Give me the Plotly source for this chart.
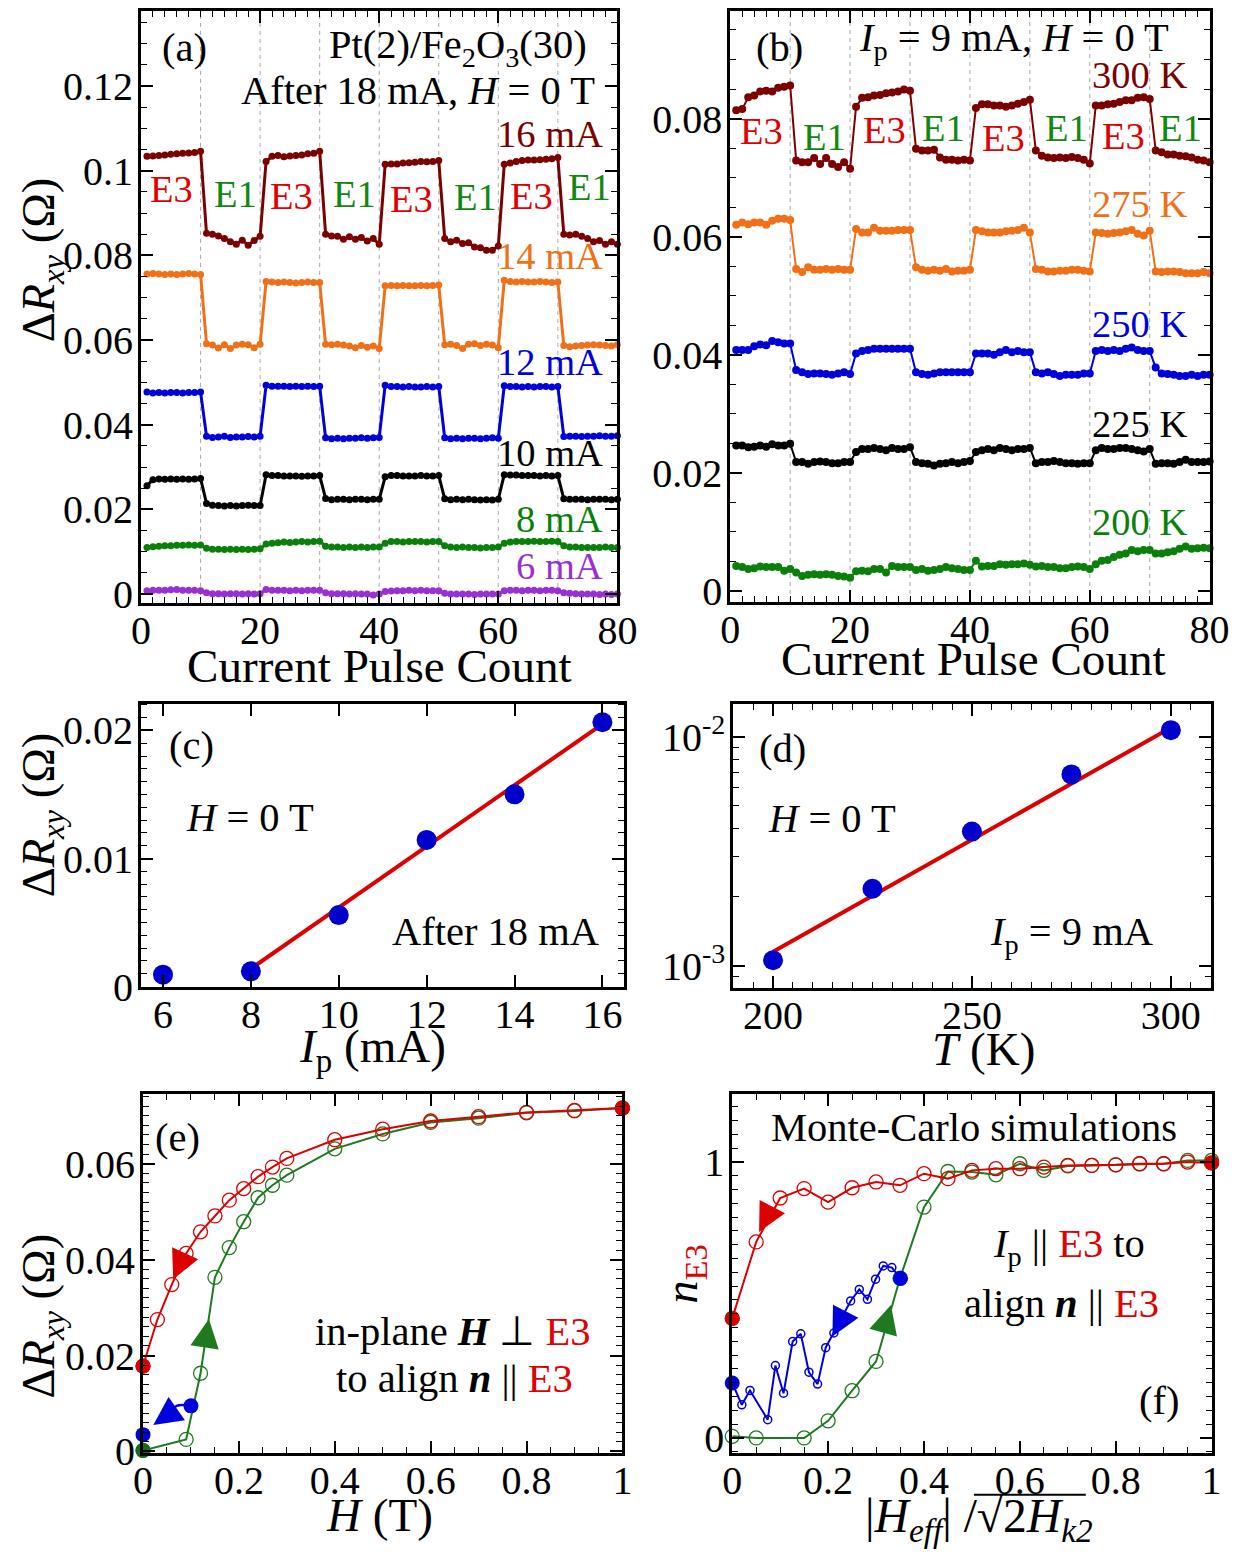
import plotly.graph_objects as go

# Layout positions below are given in reference-image pixels and mapped onto
# the figure (html body margin + slight page down-scaling are compensated).
S = 0.987
OFF = 8
FW, FH = 1242, 1568
FONT = "Liberation Serif"

# ---------------- data: panel (a) ----------------
pulse = list(range(1, 81))
a_16mA = [0.1034,0.1035,0.1036,0.1037,0.1039,0.1040,0.1041,0.1042,0.1043,0.1046,
          0.0852,0.0850,0.0846,0.0840,0.0832,0.0826,0.0836,0.0824,0.0835,0.0845,
          0.1022,0.1034,0.1036,0.1033,0.1035,0.1036,0.1037,0.1040,0.1041,0.1046,
          0.0850,0.0846,0.0845,0.0838,0.0844,0.0838,0.0842,0.0834,0.0840,0.0826,
          0.1015,0.1016,0.1016,0.1018,0.1019,0.1020,0.1022,0.1021,0.1022,0.1024,
          0.0840,0.0832,0.0836,0.0828,0.0830,0.0820,0.0818,0.0812,0.0812,0.0822,
          0.1015,0.1018,0.1022,0.1024,0.1025,0.1025,0.1026,0.1027,0.1028,0.1031,
          0.0850,0.0848,0.0850,0.0845,0.0840,0.0832,0.0835,0.0826,0.0832,0.0826]
a_14mA = [0.0756,0.0757,0.0756,0.0755,0.0756,0.0755,0.0756,0.0757,0.0756,0.0755,
          0.0591,0.0588,0.0581,0.0589,0.0580,0.0588,0.0590,0.0589,0.0582,0.0590,
          0.0738,0.0737,0.0736,0.0737,0.0736,0.0735,0.0736,0.0737,0.0736,0.0736,
          0.0590,0.0589,0.0590,0.0588,0.0586,0.0582,0.0587,0.0583,0.0586,0.0580,
          0.0728,0.0729,0.0728,0.0729,0.0728,0.0728,0.0729,0.0728,0.0729,0.0730,
          0.0589,0.0590,0.0587,0.0580,0.0590,0.0591,0.0587,0.0590,0.0588,0.0582,
          0.0741,0.0738,0.0737,0.0738,0.0737,0.0737,0.0738,0.0737,0.0736,0.0737,
          0.0587,0.0584,0.0586,0.0587,0.0588,0.0589,0.0588,0.0587,0.0586,0.0589]
a_12mA = [0.0477,0.0475,0.0476,0.0475,0.0476,0.0476,0.0475,0.0476,0.0476,0.0477,
          0.0373,0.0370,0.0371,0.0373,0.0370,0.0371,0.0371,0.0372,0.0371,0.0373,
          0.0493,0.0491,0.0491,0.0491,0.0490,0.0491,0.0490,0.0491,0.0490,0.0491,
          0.0369,0.0367,0.0368,0.0367,0.0368,0.0368,0.0369,0.0368,0.0369,0.0370,
          0.0493,0.0490,0.0490,0.0489,0.0490,0.0489,0.0489,0.0490,0.0489,0.0490,
          0.0369,0.0367,0.0368,0.0367,0.0368,0.0368,0.0367,0.0368,0.0369,0.0368,
          0.0492,0.0490,0.0490,0.0489,0.0490,0.0489,0.0490,0.0490,0.0489,0.0490,
          0.0372,0.0373,0.0373,0.0372,0.0373,0.0373,0.0374,0.0373,0.0373,0.0374]
a_10mA = [0.0256,0.0270,0.0272,0.0271,0.0272,0.0271,0.0272,0.0271,0.0272,0.0273,
          0.0214,0.0210,0.0209,0.0208,0.0209,0.0208,0.0209,0.0210,0.0209,0.0209,
          0.0282,0.0280,0.0280,0.0279,0.0279,0.0279,0.0278,0.0279,0.0279,0.0280,
          0.0226,0.0223,0.0224,0.0224,0.0223,0.0224,0.0224,0.0223,0.0224,0.0224,
          0.0277,0.0280,0.0280,0.0279,0.0279,0.0279,0.0280,0.0279,0.0279,0.0280,
          0.0225,0.0223,0.0224,0.0223,0.0224,0.0223,0.0222,0.0223,0.0222,0.0224,
          0.0282,0.0281,0.0281,0.0280,0.0280,0.0280,0.0279,0.0280,0.0279,0.0280,
          0.0225,0.0224,0.0224,0.0224,0.0223,0.0224,0.0224,0.0224,0.0223,0.0224]
a_8mA = [0.0110,0.0112,0.0113,0.0114,0.0114,0.0115,0.0115,0.0116,0.0115,0.0116,
         0.0108,0.0106,0.0106,0.0105,0.0106,0.0105,0.0106,0.0105,0.0106,0.0107,
         0.0118,0.0120,0.0121,0.0123,0.0122,0.0123,0.0124,0.0123,0.0124,0.0125,
         0.0113,0.0111,0.0111,0.0110,0.0111,0.0110,0.0111,0.0110,0.0111,0.0111,
         0.0120,0.0124,0.0124,0.0123,0.0124,0.0124,0.0124,0.0123,0.0124,0.0124,
         0.0114,0.0111,0.0110,0.0111,0.0110,0.0110,0.0109,0.0110,0.0110,0.0111,
         0.0120,0.0123,0.0124,0.0124,0.0124,0.0125,0.0124,0.0124,0.0125,0.0124,
         0.0114,0.0111,0.0111,0.0110,0.0110,0.0110,0.0110,0.0111,0.0110,0.0110]
a_6mA = [0.0008,0.0009,0.0009,0.0009,0.0010,0.0011,0.0009,0.0009,0.0009,0.0008,
         0.0003,0.0001,0.0001,0.0000,0.0001,0.0001,0.0000,0.0001,0.0000,0.0001,
         0.0011,0.0009,0.0009,0.0009,0.0008,0.0009,0.0008,0.0009,0.0009,0.0009,
         0.0003,0.0001,0.0001,0.0001,0.0000,0.0001,0.0000,0.0000,-0.0002,0.0000,
         0.0006,0.0007,0.0008,0.0008,0.0009,0.0008,0.0009,0.0008,0.0008,0.0008,
         0.0002,0.0000,0.0000,0.0000,0.0000,-0.0001,0.0000,0.0000,0.0000,0.0000,
         0.0008,0.0009,0.0009,0.0008,0.0009,0.0009,0.0008,0.0009,0.0009,0.0008,
         0.0003,0.0002,0.0001,0.0000,0.0000,0.0000,-0.0001,0.0000,-0.0001,0.0000]
a_labels = ["16 mA", "14 mA", "12 mA", "10 mA", "8 mA", "6 mA"]
switch_marks = [10, 20, 30, 40, 50, 60, 70]

# ---------------- data: panel (b) ----------------
b_300K = [0.0814,0.0816,0.0836,0.0839,0.0846,0.0847,0.0846,0.0852,0.0854,0.0856,
          0.0729,0.0726,0.0726,0.0733,0.0723,0.0733,0.0723,0.0718,0.0726,0.0715,
          0.0820,0.0835,0.0836,0.0839,0.0840,0.0843,0.0844,0.0846,0.0849,0.0847,
          0.0749,0.0746,0.0746,0.0747,0.0734,0.0730,0.0730,0.0729,0.0730,0.0729,
          0.0818,0.0824,0.0824,0.0822,0.0822,0.0820,0.0822,0.0825,0.0828,0.0832,
          0.0746,0.0737,0.0734,0.0733,0.0734,0.0733,0.0735,0.0733,0.0730,0.0724,
          0.0822,0.0822,0.0824,0.0825,0.0828,0.0831,0.0831,0.0835,0.0836,0.0833,
          0.0746,0.0743,0.0739,0.0739,0.0737,0.0736,0.0734,0.0730,0.0729,0.0726]
b_275K = [0.0620,0.0624,0.0621,0.0624,0.0624,0.0620,0.0627,0.0630,0.0630,0.0628,
          0.0545,0.0540,0.0548,0.0544,0.0544,0.0545,0.0544,0.0545,0.0544,0.0544,
          0.0613,0.0607,0.0607,0.0615,0.0610,0.0610,0.0610,0.0611,0.0611,0.0611,
          0.0548,0.0544,0.0542,0.0544,0.0542,0.0545,0.0541,0.0542,0.0542,0.0544,
          0.0611,0.0609,0.0607,0.0607,0.0607,0.0609,0.0610,0.0611,0.0615,0.0607,
          0.0545,0.0544,0.0541,0.0541,0.0542,0.0542,0.0544,0.0544,0.0542,0.0541,
          0.0607,0.0606,0.0605,0.0606,0.0607,0.0609,0.0611,0.0605,0.0602,0.0610,
          0.0541,0.0540,0.0541,0.0541,0.0540,0.0538,0.0538,0.0538,0.0540,0.0538]
b_250K = [0.0408,0.0408,0.0408,0.0414,0.0417,0.0416,0.0423,0.0421,0.0419,0.0419,
          0.0374,0.0370,0.0367,0.0368,0.0368,0.0367,0.0366,0.0368,0.0370,0.0367,
          0.0402,0.0406,0.0408,0.0410,0.0410,0.0410,0.0410,0.0410,0.0410,0.0410,
          0.0370,0.0367,0.0366,0.0368,0.0370,0.0370,0.0370,0.0370,0.0370,0.0370,
          0.0402,0.0402,0.0402,0.0400,0.0404,0.0408,0.0404,0.0406,0.0404,0.0404,
          0.0370,0.0368,0.0370,0.0367,0.0364,0.0366,0.0366,0.0366,0.0368,0.0368,
          0.0406,0.0408,0.0406,0.0408,0.0406,0.0410,0.0412,0.0408,0.0406,0.0406,
          0.0378,0.0368,0.0367,0.0366,0.0364,0.0364,0.0366,0.0364,0.0366,0.0366]
b_225K = [0.0246,0.0246,0.0243,0.0244,0.0246,0.0244,0.0248,0.0246,0.0246,0.0249,
          0.0218,0.0218,0.0215,0.0218,0.0219,0.0218,0.0216,0.0216,0.0218,0.0218,
          0.0235,0.0240,0.0240,0.0242,0.0240,0.0238,0.0242,0.0240,0.0240,0.0243,
          0.0218,0.0216,0.0215,0.0212,0.0215,0.0216,0.0218,0.0216,0.0218,0.0220,
          0.0235,0.0238,0.0240,0.0238,0.0242,0.0240,0.0238,0.0240,0.0240,0.0242,
          0.0216,0.0218,0.0218,0.0220,0.0218,0.0216,0.0216,0.0215,0.0216,0.0216,
          0.0238,0.0242,0.0240,0.0240,0.0242,0.0242,0.0240,0.0238,0.0236,0.0240,
          0.0215,0.0216,0.0216,0.0215,0.0218,0.0222,0.0218,0.0218,0.0218,0.0219]
b_200K = [0.0042,0.0040,0.0037,0.0038,0.0041,0.0040,0.0040,0.0040,0.0034,0.0037,
          0.0031,0.0025,0.0027,0.0028,0.0027,0.0028,0.0027,0.0025,0.0024,0.0022,
          0.0033,0.0034,0.0033,0.0037,0.0037,0.0031,0.0042,0.0040,0.0040,0.0040,
          0.0035,0.0037,0.0034,0.0035,0.0037,0.0040,0.0038,0.0037,0.0035,0.0035,
          0.0051,0.0041,0.0042,0.0042,0.0045,0.0044,0.0045,0.0045,0.0046,0.0044,
          0.0041,0.0042,0.0040,0.0040,0.0038,0.0038,0.0040,0.0041,0.0040,0.0037,
          0.0045,0.0051,0.0052,0.0057,0.0061,0.0063,0.0069,0.0067,0.0069,0.0069,
          0.0063,0.0063,0.0065,0.0067,0.0071,0.0075,0.0071,0.0072,0.0073,0.0072]
b_labels = ["300 K", "275 K", "250 K", "225 K", "200 K"]

# ---------------- data: panel (c) ----------------
c_Ip = [6, 8, 10, 12, 14, 16]
c_dR = [0.00093, 0.00119, 0.00558, 0.01145, 0.01501, 0.02064]
c_fit_Ip = [8, 16]
c_fit_dR = [0.00140, 0.02050]

# ---------------- data: panel (d) ----------------
d_T = [200, 225, 250, 275, 300]
d_dR = [1.055e-3, 2.17e-3, 3.86e-3, 6.87e-3, 1.073e-2]
d_fit_T = [200, 300]
d_fit_dR = [1.15e-3, 1.10e-2]

# ---------------- data: panel (e) ----------------
e_red_H = [1, 0.9, 0.8, 0.7, 0.6, 0.5, 0.4, 0.3, 0.27, 0.24, 0.21, 0.18, 0.15, 0.12, 0.09, 0.06, 0.03, 0]
e_red_R = [0.0716, 0.0711, 0.0707, 0.0698, 0.0689, 0.0672, 0.0650, 0.0611, 0.0593, 0.0573,
           0.0548, 0.0524, 0.0491, 0.0458, 0.0413, 0.0348, 0.0275, 0.0178]
e_green_H = [0, 0.09, 0.12, 0.15, 0.18, 0.21, 0.24, 0.27, 0.3, 0.4, 0.5, 0.6, 0.7, 0.8, 0.9, 1]
e_green_R = [0.0002, 0.0025, 0.0163, 0.0363, 0.0425, 0.0479, 0.0529, 0.0555, 0.0576, 0.0631,
             0.0662, 0.0686, 0.0695, 0.0706, 0.0710, 0.0716]
e_blue_H = [0.10, 0.07, 0.056, 0.042, 0.030]
e_blue_R = [0.0095, 0.0095, 0.0080, 0.0068, 0.0061]
e_blue_end_H = [0.10, 0.0]
e_blue_end_R = [0.0095, 0.0035]

# ---------------- data: panel (f) ----------------
f_red_x = [1, 0.95, 0.9, 0.85, 0.8, 0.75, 0.7, 0.65, 0.6, 0.55, 0.5, 0.45, 0.4, 0.35, 0.3,
           0.25, 0.2, 0.15, 0.1, 0.05, 0]
f_red_n = [0.996, 0.999, 0.993, 0.993, 0.989, 0.987, 0.987, 0.981, 0.975, 0.975, 0.969, 0.939,
           0.957, 0.915, 0.927, 0.906, 0.854, 0.903, 0.869, 0.710, 0.433]
f_green_x = [0, 0.05, 0.15, 0.2, 0.25, 0.3, 0.35, 0.4, 0.45, 0.5, 0.55, 0.6, 0.65, 0.7, 0.75,
             0.8, 0.85, 0.9, 0.95, 1]
f_green_n = [0.006, 0.000, 0.000, 0.062, 0.171, 0.277, 0.578, 0.836, 0.965, 0.963, 0.953, 0.993,
             0.969, 0.985, 0.987, 0.989, 0.993, 0.993, 1.005, 1.005]
f_blue_x = [0.351, 0.333, 0.315, 0.299, 0.282, 0.265, 0.247, 0.230, 0.212, 0.195, 0.178, 0.160,
            0.143, 0.126, 0.107, 0.090, 0.074, 0.037, 0.020, 0.0]
f_blue_n = [0.578, 0.617, 0.623, 0.575, 0.502, 0.538, 0.496, 0.440, 0.380, 0.327, 0.195, 0.238,
            0.377, 0.349, 0.162, 0.262, 0.066, 0.172, 0.120, 0.199]
f_blue_end_x = [0.351, 0.0]
f_blue_end_n = [0.578, 0.199]

# direction arrows: (tip x, tip y, tail offset px x, tail offset px y, colour)
e_arrows = [(0.063, 0.0359, 11, -24, "#dd0000"), (0.1375, 0.0276, -4, 26, "#1f7a1f"),
            (0.0215, 0.0055, 20, -14, "#0000dd")]
f_arrows = [(0.056, 0.746, 12, -23, "#dd0000"), (0.209, 0.367, 12, -23, "#0000dd"),
            (0.331, 0.481, -7, 25, "#1f7a1f")]

# ---------------- styling ----------------
MAROON, ORANGE, BLUE, BLACK, GREEN, PURPLE = "#7b0000", "#f07018", "#0000d8", "#000000", "#0a800a", "#9b30d0"
RED, DGREEN = "#dd0000", "#1f7a1f"
E3C, E1C = "#e00000", "#118811"

fig = go.Figure()


def fs(v):
    return round(v / S, 1)


def clamp(v):
    return min(1.0, max(0.0, v))


def fx(px):
    px = (px - 10) / 0.99
    return (px / S - OFF) / FW


def fy(py):
    return 1 - (py / S - OFF) / FH


def dom_x(x0, x1):
    return [clamp(fx(x0)), clamp(fx(x1))]


def dom_y(y0, y1):
    return [clamp(fy(y1)), clamp(fy(y0))]


MINOR = dict(ticks="inside", ticklen=6, tickcolor="black", tickwidth=1.2)


def axis_common(**kw):
    d = dict(showline=True, linewidth=3, linecolor="black", mirror="allticks",
             ticks="inside", ticklen=12, tickwidth=1.5, tickcolor="black",
             tickfont=dict(family=FONT, size=fs(39.5), color="black"),
             showgrid=False, zeroline=False)
    d.update(kw)
    return d


XSTAND = -10
YSTAND = -3

fig.update_layout(
    xaxis=axis_common(domain=dom_x(141, 618), range=[0, 80], anchor="y", ticklabelstandoff=XSTAND,
                      tickvals=[0, 20, 40, 60, 80],
                      minor=dict(tickmode="linear", tick0=0, dtick=2, **MINOR)),
    yaxis=axis_common(domain=dom_y(8, 602), range=[-0.0021, 0.1377], anchor="x", ticklabelstandoff=YSTAND,
                      tickvals=[0, 0.02, 0.04, 0.06, 0.08, 0.1, 0.12],
                      ticktext=["0", "0.02", "0.04", "0.06", "0.08", "0.1", "0.12"],
                      minor=dict(tickmode="linear", tick0=0, dtick=0.005, **MINOR)),
    xaxis2=axis_common(domain=dom_x(731, 1211), range=[0, 80], anchor="y2", ticklabelstandoff=XSTAND,
                       tickvals=[0, 20, 40, 60, 80],
                       minor=dict(tickmode="linear", tick0=0, dtick=2, **MINOR)),
    yaxis2=axis_common(domain=dom_y(8, 601), range=[-0.0019, 0.0982], anchor="x2", ticklabelstandoff=YSTAND,
                       tickvals=[0, 0.02, 0.04, 0.06, 0.08],
                       ticktext=["0", "0.02", "0.04", "0.06", "0.08"],
                       minor=dict(tickmode="linear", tick0=0, dtick=0.005, **MINOR)),
    xaxis3=axis_common(domain=dom_x(141, 625), range=[5.5, 16.5], anchor="y3", ticklabelstandoff=XSTAND,
                       tickvals=[6, 8, 10, 12, 14, 16]),
    yaxis3=axis_common(domain=dom_y(703, 987), range=[0, 0.0221], anchor="x3", ticklabelstandoff=YSTAND,
                       tickvals=[0, 0.01, 0.02], ticktext=["0", "0.01", "0.02"],
                       minor=dict(tickmode="linear", tick0=0, dtick=0.001, **MINOR)),
    xaxis4=axis_common(domain=dom_x(734, 1212), range=[190, 310], anchor="y4", ticklabelstandoff=XSTAND,
                       tickvals=[200, 250, 300],
                       minor=dict(tickmode="linear", tick0=200, dtick=5, **MINOR)),
    yaxis4=axis_common(domain=dom_y(703, 988), type="log", range=[-3.096, -1.853], anchor="x4",
                       ticklabelstandoff=YSTAND,
                       tickvals=[0.001, 0.01], ticktext=["10<sup>-3</sup>", "10<sup>-2</sup>"],
                       minor=dict(tickmode="array",
                                  tickvals=[0.0009, 0.002, 0.003, 0.004, 0.005, 0.006, 0.007, 0.008, 0.009],
                                  **MINOR)),
    xaxis5=axis_common(domain=dom_x(143, 623), range=[0, 1], anchor="y5", ticklabelstandoff=XSTAND,
                       tickvals=[0, 0.2, 0.4, 0.6, 0.8, 1], ticktext=["0", "0.2", "0.4", "0.6", "0.8", "1"],
                       minor=dict(tickmode="linear", tick0=0, dtick=0.05, **MINOR)),
    yaxis5=axis_common(domain=dom_y(1095, 1455), range=[-0.0003, 0.0745], anchor="x5", ticklabelstandoff=YSTAND,
                       tickvals=[0, 0.02, 0.04, 0.06], ticktext=["0", "0.02", "0.04", "0.06"],
                       minor=dict(tickmode="linear", tick0=0, dtick=0.002, **MINOR)),
    xaxis6=axis_common(domain=dom_x(733, 1213), range=[0, 1], anchor="y6", ticklabelstandoff=XSTAND,
                       tickvals=[0, 0.2, 0.4, 0.6, 0.8, 1], ticktext=["0", "0.2", "0.4", "0.6", "0.8", "1"],
                       minor=dict(tickmode="linear", tick0=0, dtick=0.05, **MINOR)),
    yaxis6=axis_common(domain=dom_y(1095, 1455), range=[-0.054, 1.245], anchor="x6", ticklabelstandoff=YSTAND,
                       tickvals=[0, 1], ticktext=["0", "1"],
                       minor=dict(tickmode="linear", tick0=0, dtick=0.05, **MINOR)),
)

# dashed switching marks in (a) and (b)
for xa, ya in [("x", "y"), ("x2", "y2")]:
    for xv in switch_marks:
        fig.add_shape(type="line", xref=xa, yref=f"{ya} domain", x0=xv, x1=xv, y0=0, y1=1,
                      line=dict(color="#a8a8a8", width=1, dash="4px,4px"), layer="below")

# panel (a) traces
for vals, col in zip([a_16mA, a_14mA, a_12mA, a_10mA, a_8mA, a_6mA],
                     [MAROON, ORANGE, BLUE, BLACK, GREEN, PURPLE]):
    fig.add_trace(go.Scatter(x=pulse, y=vals, mode="lines+markers", xaxis="x", yaxis="y",
                             line=dict(color=col, width=3), marker=dict(color=col, size=7),
                             cliponaxis=False, showlegend=False))

# panel (b) traces
for vals, col in zip([b_300K, b_275K, b_250K, b_225K, b_200K],
                     [MAROON, ORANGE, BLUE, BLACK, GREEN]):
    fig.add_trace(go.Scatter(x=pulse, y=vals, mode="lines+markers", xaxis="x2", yaxis="y2",
                             line=dict(color=col, width=2), marker=dict(color=col, size=8),
                             cliponaxis=False, showlegend=False))

# panel (c)
fig.add_trace(go.Scatter(x=c_fit_Ip, y=c_fit_dR, mode="lines", xaxis="x3", yaxis="y3",
                         line=dict(color=RED, width=4), showlegend=False))
fig.add_trace(go.Scatter(x=c_Ip, y=c_dR, mode="markers", xaxis="x3", yaxis="y3",
                         marker=dict(color="#0000cc", size=20), cliponaxis=False, showlegend=False))

# panel (d)
fig.add_trace(go.Scatter(x=d_fit_T, y=d_fit_dR, mode="lines", xaxis="x4", yaxis="y4",
                         line=dict(color=RED, width=4), showlegend=False))
fig.add_trace(go.Scatter(x=d_T, y=d_dR, mode="markers", xaxis="x4", yaxis="y4",
                         marker=dict(color="#0000cc", size=20), cliponaxis=False, showlegend=False))

# panel (e)
fig.add_trace(go.Scatter(x=e_green_H, y=e_green_R, mode="lines+markers", xaxis="x5", yaxis="y5",
                         line=dict(color=DGREEN, width=2),
                         marker=dict(symbol="circle-open", size=14, color=DGREEN, line=dict(width=1.3)),
                         cliponaxis=False, showlegend=False))
fig.add_trace(go.Scatter(x=e_red_H, y=e_red_R, mode="lines+markers", xaxis="x5", yaxis="y5",
                         line=dict(color=RED, width=2),
                         marker=dict(symbol="circle-open", size=14, color=RED, line=dict(width=1.3)),
                         cliponaxis=False, showlegend=False))
fig.add_trace(go.Scatter(x=e_blue_H, y=e_blue_R, mode="lines", xaxis="x5", yaxis="y5",
                         line=dict(color="#0000dd", width=2.5, shape="spline"), showlegend=False))
fig.add_trace(go.Scatter(x=[e_red_H[0], e_red_H[-1]], y=[e_red_R[0], e_red_R[-1]], mode="markers",
                         xaxis="x5", yaxis="y5", marker=dict(color=RED, size=15), cliponaxis=False, showlegend=False))
fig.add_trace(go.Scatter(x=e_blue_end_H, y=e_blue_end_R, mode="markers",
                         xaxis="x5", yaxis="y5", marker=dict(color="#0000dd", size=15), cliponaxis=False, showlegend=False))
fig.add_trace(go.Scatter(x=[e_green_H[0]], y=[e_green_R[0]], mode="markers",
                         xaxis="x5", yaxis="y5", marker=dict(color="#1a6a1a", size=15), cliponaxis=False, showlegend=False))

# panel (f)
fig.add_trace(go.Scatter(x=f_green_x, y=f_green_n, mode="lines+markers", xaxis="x6", yaxis="y6",
                         line=dict(color=DGREEN, width=2),
                         marker=dict(symbol="circle-open", size=14, color=DGREEN, line=dict(width=1.3)),
                         cliponaxis=False, showlegend=False))
fig.add_trace(go.Scatter(x=f_red_x, y=f_red_n, mode="lines+markers", xaxis="x6", yaxis="y6",
                         line=dict(color=RED, width=2),
                         marker=dict(symbol="circle-open", size=14, color=RED, line=dict(width=1.3)),
                         cliponaxis=False, showlegend=False))
fig.add_trace(go.Scatter(x=f_blue_x, y=f_blue_n, mode="lines+markers", xaxis="x6", yaxis="y6",
                         line=dict(color="#0000dd", width=2),
                         marker=dict(symbol="circle-open", size=8, color="#0000dd", line=dict(width=1.5)),
                         cliponaxis=False, showlegend=False))
fig.add_trace(go.Scatter(x=[f_red_x[0], f_red_x[-1]], y=[f_red_n[0], f_red_n[-1]], mode="markers",
                         xaxis="x6", yaxis="y6", marker=dict(color=RED, size=15), cliponaxis=False, showlegend=False))
fig.add_trace(go.Scatter(x=f_blue_end_x, y=f_blue_end_n, mode="markers",
                         xaxis="x6", yaxis="y6", marker=dict(color="#0000dd", size=15), cliponaxis=False, showlegend=False))

# direction arrowheads
for xa, ya, arrows in [("x5", "y5", e_arrows), ("x6", "y6", f_arrows)]:
    for (x, y, ax, ay, col) in arrows:
        fig.add_annotation(x=x, y=y, xref=xa, yref=ya, ax=ax, ay=ay, text="", showarrow=True,
                           arrowhead=2, arrowsize=2.6, arrowwidth=2.2, arrowcolor=col, standoff=0)


# ---------------- text ----------------
def txt(s, px, py, size=40, color="black", xanchor="center", angle=0):
    fig.add_annotation(text=s, x=fx(px), y=fy(py), xref="paper", yref="paper",
                       showarrow=False, font=dict(family=FONT, size=fs(size), color=color),
                       xanchor=xanchor, yanchor="middle", textangle=angle)


def red(s):
    return f"<span style='color:{E3C}'>{s}</span>"


# (a)
txt("(a)", 185, 45)
txt("Pt(2)/Fe<sub>2</sub>O<sub>3</sub>(30)", 590, 45, xanchor="right")
txt("After 18 mA, <i>H</i> = 0 T", 598, 88, xanchor="right")
for lab, col, py in zip(a_labels, [MAROON, ORANGE, BLUE, BLACK, GREEN, PURPLE], [131, 254, 360, 452, 518, 565]):
    txt(lab, 606, py, size=38, color=col, xanchor="right")
for lab, px, py in zip(["E3", "E1", "E3", "E1", "E3", "E1", "E3", "E1"],
                       [172, 236, 292, 355, 412, 476, 532, 590],
                       [187, 192, 194, 192, 197, 195, 194, 185]):
    txt(lab, px, py, size=38, color=E3C if lab == "E3" else E1C)
txt("Δ<i>R</i><sub><i>xy</i></sub> (Ω)", 41, 258, size=46, angle=-90)
txt("Current Pulse Count", 380, 665, size=46.5)

# (b)
txt("(b)", 780, 45)
txt("<i>I</i><sub>p</sub> = 9 mA, <i>H</i> = 0 T", 1015, 38)
for lab, col, py in zip(b_labels, [MAROON, ORANGE, BLUE, BLACK, GREEN], [72, 202, 322, 422, 521]):
    txt(lab, 1190, py, size=38, color=col, xanchor="right")
for lab, px, py in zip(["E3", "E1", "E3", "E1", "E3", "E1", "E3", "E1"],
                       [762, 825, 885, 945, 1005, 1068, 1125, 1182],
                       [128, 134, 127, 125, 135, 125, 133, 125]):
    txt(lab, px, py, size=38, color=E3C if lab == "E3" else E1C)
txt("Current Pulse Count", 975, 658, size=46.5)

# (c)
txt("(c)", 192, 745)
txt("<i>H</i> = 0 T", 250, 817)
txt("After 18 mA", 496, 932)
txt("Δ<i>R</i><sub><i>xy</i></sub> (Ω)", 41, 815, size=46, angle=-90)
txt("<i>I</i><sub>p</sub> (mA)", 373, 1050, size=46.5)

# (d)
txt("(d)", 783, 748)
txt("<i>H</i> = 0 T", 833, 818)
txt("<i>I</i><sub>p</sub> = 9 mA", 1073, 935)
txt("<i>T</i> (K)", 985, 1050, size=46.5)

# (e)
txt("(e)", 178, 1138)
txt("in-plane <b><i>H</i></b> ⊥ " + red("E3"), 453, 1333)
txt("to align <b><i>n</i></b> || " + red("E3"), 455, 1380)
txt("Δ<i>R</i><sub><i>xy</i></sub> (Ω)", 41, 1318, size=46, angle=-90)
txt("<i>H</i> (T)", 380, 1517, size=46.5)

# (f)
txt("Monte-Carlo simulations", 975, 1128)
txt("<i>I</i><sub>p</sub> || " + red("E3") + " to", 1070, 1248)
txt("align <b><i>n</i></b> || " + red("E3"), 1063, 1305)
txt("(f)", 1160, 1402)
txt("<i>n</i><sub>" + red("E3") + "</sub>", 685, 1275, size=46, angle=-90)
txt("|<i>H</i><sub><i>eff</i></sub>| /√2<i>H</i><sub><i>k2</i></sub>", 980, 1522, size=47)
fig.add_shape(type="line", xref="paper", yref="paper", x0=fx(975), x1=fx(1087),
              y0=fy(1497), y1=fy(1497), line=dict(color="black", width=2))

fig.update_layout(width=FW, height=FH, margin=dict(l=0, r=0, t=0, b=0),
                  paper_bgcolor="white", plot_bgcolor="white",
                  font=dict(family=FONT, color="black"), showlegend=False)

fig.write_html("out.html")
